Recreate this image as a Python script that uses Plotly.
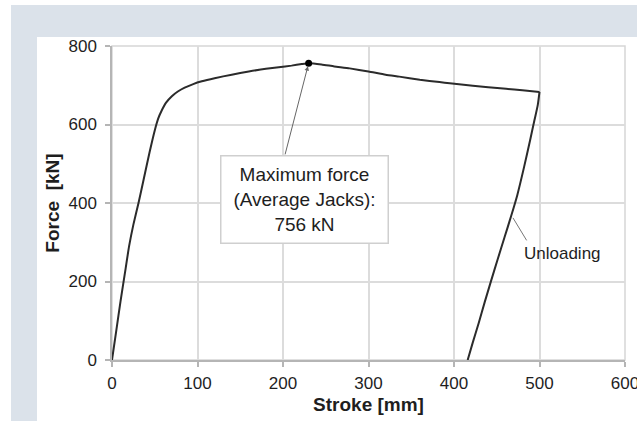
import plotly.graph_objects as go

# --- data ---
stroke_loading = [0, 5, 10, 15, 20, 25, 31, 37, 44, 50, 54, 58, 63, 70, 77, 85, 95, 105,
                  120, 140, 160, 180, 195, 210, 222, 230]
force_loading = [0, 75, 150, 220, 290, 345, 400, 460, 530, 585, 615, 635, 655, 672, 684,
                 694, 703, 710, 718, 727, 735, 742, 746, 750, 754, 756]
stroke_softening = [230, 245, 260, 278, 300, 320, 336, 360, 383, 395, 422, 440, 461, 480, 500]
force_softening = [756, 753, 748, 743, 735, 727, 722, 714, 708, 705, 699, 695, 691, 687, 683]
stroke_unloading = [500, 498, 494, 489, 482, 474, 467, 459, 451, 443, 436, 429, 422, 416]
force_unloading = [683, 650, 610, 560, 492, 420, 368, 312, 256, 199, 148, 95, 45, 0]

x_ticks = [0, 100, 200, 300, 400, 500, 600]
y_ticks = [0, 200, 400, 600, 800]
x_title = "Stroke [mm]"
y_title = "Force  [kN]"
label_unloading = "Unloading"

stroke_up = stroke_loading + stroke_softening[1:]
force_up = force_loading + force_softening[1:]

peak_force = max(force_up)
peak_stroke = stroke_up[force_up.index(peak_force)]

FONT = "Liberation Sans, Arial, sans-serif"
TXT = "#1e1e1e"
LINE = "#2b2b2b"

fig = go.Figure()
fig.add_trace(go.Scatter(x=stroke_up, y=force_up, mode="lines",
                         line=dict(color=LINE, width=2, shape="spline", smoothing=0.5),
                         hoverinfo="skip", showlegend=False))
fig.add_trace(go.Scatter(x=stroke_unloading, y=force_unloading, mode="lines",
                         line=dict(color=LINE, width=2, shape="spline", smoothing=0.6),
                         hoverinfo="skip", showlegend=False))
fig.add_trace(go.Scatter(x=[peak_stroke], y=[peak_force], mode="markers",
                         marker=dict(color="#000000", size=7), showlegend=False))

W, H = 637, 421
L, R, T, B = 112, 12, 46, 61
pw, ph = W - L - R, H - T - B


def px(xp):
    return (xp - L) / pw


def py(yp):
    return 1 - (yp - T) / ph


# background frame
fig.add_shape(type="rect", xref="paper", yref="paper", x0=px(11), x1=px(640), y0=py(424), y1=py(5),
              fillcolor="#dbe2ea", line=dict(width=0), layer="below")
fig.add_shape(type="rect", xref="paper", yref="paper", x0=px(37), x1=px(640), y0=py(424), y1=py(37),
              fillcolor="#ffffff", line=dict(width=0), layer="below")
# light plot-area border (top / right)
fig.add_shape(type="rect", xref="paper", yref="paper", x0=0, x1=1, y0=0, y1=1,
              line=dict(color="#d6d6d6", width=1.5), fillcolor="rgba(0,0,0,0)", layer="below")

# leader lines
fig.add_annotation(x=peak_stroke, y=peak_force, ax=202, ay=520, axref="x", ayref="y",
                   xref="x", yref="y", text="", showarrow=True, arrowhead=2, arrowsize=0.9,
                   arrowwidth=1, arrowcolor="#666666", standoff=3)
fig.add_annotation(x=469, y=362, ax=486, ay=301, axref="x", ayref="y",
                   xref="x", yref="y", text="", showarrow=True, arrowhead=0,
                   arrowwidth=1, arrowcolor="#777777")

fig.add_annotation(x=225.5, y=408, xref="x", yref="y", showarrow=False,
                   text=f"Maximum force<br>(Average Jacks):<br>{peak_force} kN",
                   font=dict(family=FONT, size=19, color=TXT), align="center",
                   bgcolor="#ffffff", bordercolor="#cfcfcf", borderwidth=1.5,
                   borderpad=6, width=154, height=74)
fig.add_annotation(x=527, y=272, xref="x", yref="y", showarrow=False,
                   text=label_unloading, font=dict(family=FONT, size=17, color=TXT))

axis_common = dict(showgrid=True, gridcolor="#dcdcdc", gridwidth=1.5,
                   showline=True, linecolor="#b5b5b5", linewidth=1.5,
                   ticks="outside", ticklen=5, tickcolor="#b5b5b5", tickwidth=1.5,
                   zeroline=False, ticklabeloverflow="allow",
                   tickfont=dict(family=FONT, size=17, color=TXT))

fig.update_xaxes(range=[0, 600], tickvals=x_ticks, ticktext=[str(v) for v in x_ticks],
                 title=dict(text=f"<b>{x_title}</b>", font=dict(family=FONT, size=19, color=TXT),
                            standoff=6), ticklabelstandoff=2, **axis_common)
fig.update_yaxes(range=[0, 800], tickvals=y_ticks, ticktext=[str(v) for v in y_ticks],
                 title=dict(text=f"<b>{y_title}</b>", font=dict(family=FONT, size=19, color=TXT),
                            standoff=4), ticklabelstandoff=5, **axis_common)

fig.update_layout(width=W, height=H, margin=dict(l=L, r=R, t=T, b=B, autoexpand=False),
                  paper_bgcolor="#ffffff", plot_bgcolor="#ffffff", showlegend=False,
                  font=dict(family=FONT, color=TXT))

fig.write_html("out.html", config={"displayModeBar": False},
               post_script="document.body.style.margin='0px';document.body.style.overflow='hidden';")
